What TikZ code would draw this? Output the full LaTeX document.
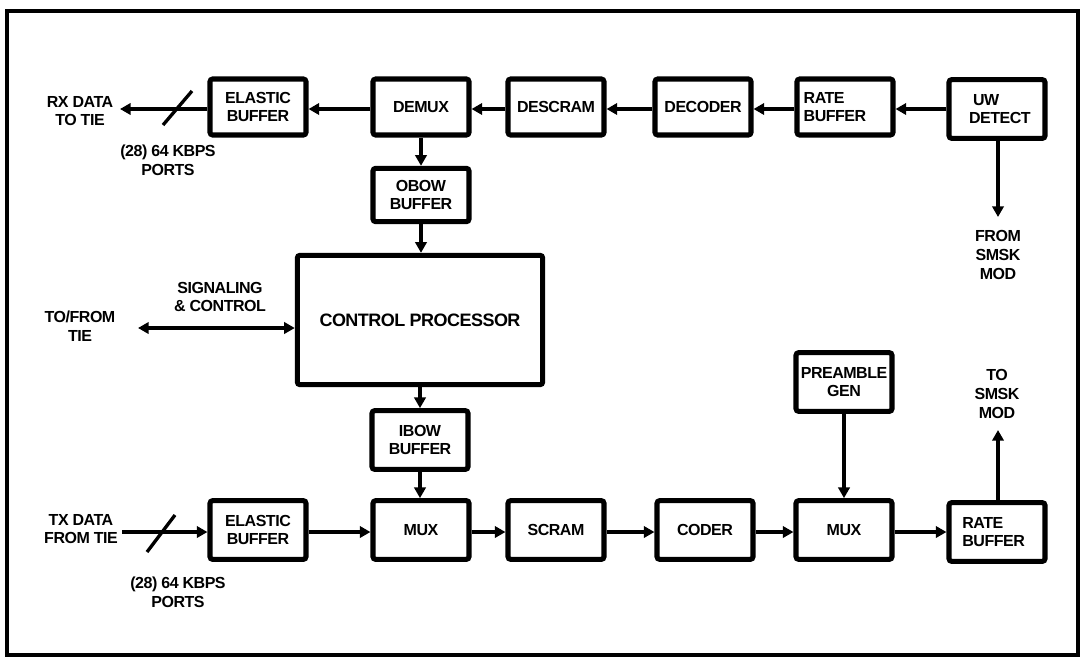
\documentclass[tikz,border=0pt]{standalone}
\usepackage{fontspec}
\setmainfont{Liberation Sans}[LetterSpace=-3]
\usetikzlibrary{arrows.meta}
\begin{document}
\begin{tikzpicture}[x=0.75pt,y=-0.75pt,
  every node/.style={font=\bfseries\fontsize{12}{14}\selectfont, inner sep=0pt},
  blk/.style={draw, line width=3.8pt, rounded corners=2pt, minimum width=72pt, minimum height=42pt, align=center},
  blkl/.style={blk, align=left, text width=62pt},
  lbl/.style={align=center},
  conn/.style={line width=2.5pt, -{Triangle[length=8pt,width=8.5pt]}},
  dconn/.style={line width=2.5pt, {Triangle[length=8pt,width=8.5pt]}-{Triangle[length=8pt,width=8.5pt]}},
  slash/.style={line width=2.5pt}]
\useasboundingbox (0,0) rectangle (1084,658);
\draw[line width=3.5pt] (7,11) rectangle (1078,655);

% top row
\node[blk] (eb1) at (258,107) {ELASTIC\\BUFFER};
\node[blk] (demux) at (421,107) {DEMUX};
\node[blk] (descram) at (556,107) {DESCRAM};
\node[blk] (decoder) at (703,107) {DECODER};
\node[blkl] (rb1) at (845,107) {RATE\\BUFFER};
\node[blkl, minimum height=44pt] (uw) at (997,109) {\hspace*{13pt}UW\\\hspace*{10pt}DETECT};

\node[blk, minimum height=40pt] (obow) at (421,195) {OBOW\\BUFFER};
\node[blk, minimum width=184pt, minimum height=97pt, font=\bfseries\fontsize{13.5}{15}\selectfont] (cp) at (420,320) {CONTROL PROCESSOR};
\node[blk, minimum height=44pt] (ibow) at (420,440) {IBOW\\BUFFER};

% bottom row
\node[blk, minimum height=44pt] (eb2) at (258,530) {ELASTIC\\BUFFER};
\node[blk, minimum height=44pt] (mux1) at (421,530) {MUX};
\node[blk, minimum height=44pt] (scram) at (556,530) {SCRAM};
\node[blk, minimum height=44pt] (coder) at (705,530) {CODER};
\node[blk, minimum height=44pt] (mux2) at (844,530) {MUX};
\node[blkl, minimum height=44pt] (rb2) at (997,532) {\hspace*{5pt}RATE\\\hspace*{5pt}BUFFER};
\node[blk, minimum height=44pt] (pre) at (844,382) {PREAMBLE\\GEN};

% labels
\node[lbl] (rxlbl) at (80,111) {RX DATA\\TO TIE};
\node[lbl] (ports1) at (168,160) {(28) 64 KBPS\\PORTS};
\node[lbl] (siglbl) at (220,297) {SIGNALING\\\& CONTROL};
\node[lbl] (tflbl) at (80,326) {TO/FROM\\TIE};
\node[lbl] (txlbl) at (81,529) {TX DATA\\FROM TIE};
\node[lbl] (ports2) at (178,592) {(28) 64 KBPS\\PORTS};
\node[lbl] (tosmsk) at (997,394) {TO\\SMSK\\MOD};
\node[lbl] (frsmsk) at (998,255) {FROM\\SMSK\\MOD};

% free ends
\coordinate (rxend) at (120,109);
\coordinate (txstart) at (122,532);
\coordinate (sigend) at (138,328);
\coordinate (uwend) at (998,217);
\coordinate (rbend) at (998,430);

% top row connectors
\draw[conn] (uw.west |- 0,109) -- (rb1.east |- 0,109);
\draw[conn] (rb1.west |- 0,109) -- (decoder.east |- 0,109);
\draw[conn] (decoder.west |- 0,109) -- (descram.east |- 0,109);
\draw[conn] (descram.west |- 0,109) -- (demux.east |- 0,109);
\draw[conn] (demux.west |- 0,109) -- (eb1.east |- 0,109);
\draw[conn] (eb1.west |- 0,109) -- (rxend);
\draw[slash] (163,125) -- (192,91);

\draw[conn] (uw.south -| uwend) -- (uwend);

% vertical chain
\draw[conn] (demux.south) -- (obow.north);
\draw[conn] (obow.south) -- (cp.north -| obow.south);
\draw[conn] (cp.south -| ibow.north) -- (ibow.north);
\draw[conn] (ibow.south) -- (mux1.north -| ibow.south);

\draw[dconn] (sigend) -- (cp.west |- sigend);

% bottom row connectors
\draw[conn] (txstart) -- (eb2.west |- txstart);
\draw[slash] (147,552) -- (175,515);
\draw[conn] (eb2.east |- 0,532) -- (mux1.west |- 0,532);
\draw[conn] (mux1.east |- 0,532) -- (scram.west |- 0,532);
\draw[conn] (scram.east |- 0,532) -- (coder.west |- 0,532);
\draw[conn] (coder.east |- 0,532) -- (mux2.west |- 0,532);
\draw[conn] (mux2.east |- 0,532) -- (rb2.west |- 0,532);
\draw[conn] (pre.south) -- (mux2.north);
\draw[conn] (rb2.north -| rbend) -- (rbend);
\end{tikzpicture}
\end{document}
